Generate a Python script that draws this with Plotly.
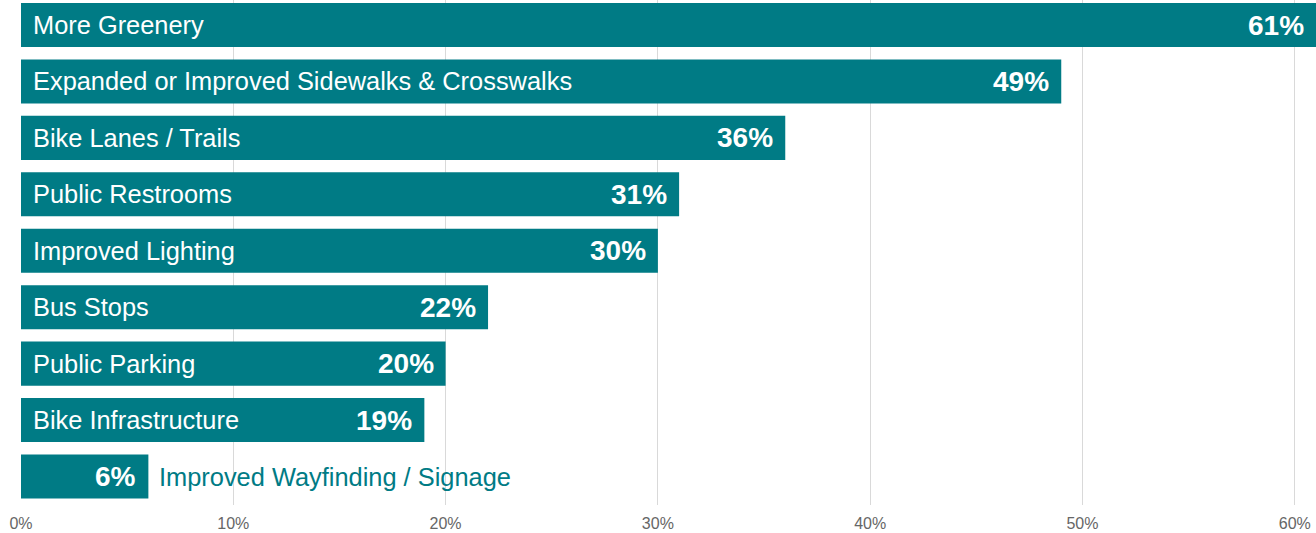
import plotly.graph_objects as go

categories = [
    "More Greenery",
    "Expanded or Improved Sidewalks & Crosswalks",
    "Bike Lanes / Trails",
    "Public Restrooms",
    "Improved Lighting",
    "Bus Stops",
    "Public Parking",
    "Bike Infrastructure",
    "Improved Wayfinding / Signage",
]
values = [61, 49, 36, 31, 30, 22, 20, 19, 6]
tick_vals = [0, 10, 20, 30, 40, 50, 60]
tick_text = ["0%", "10%", "20%", "30%", "40%", "50%", "60%"]

TEAL = "#007B85"
FONT = "Liberation Sans, Arial, sans-serif"

fig = go.Figure(go.Bar(
    x=values, y=categories, orientation="h",
    marker=dict(color=TEAL, line=dict(width=0)),
    hoverinfo="skip",
))

annotations = []
for c, v in zip(categories, values):
    inside = v > 10
    annotations.append(dict(
        x=0 if inside else v, y=c, xref="x", yref="y",
        text=c, showarrow=False, xanchor="left", yanchor="middle",
        xshift=10 if inside else 9,
        font=dict(family=FONT, size=25.4, color="white" if inside else TEAL),
    ))
    annotations.append(dict(
        x=v, y=c, xref="x", yref="y",
        text="<b>%d%%</b>" % v, showarrow=False, xanchor="right", yanchor="middle",
        xshift=-10,
        font=dict(family=FONT, size=28, color="white"),
    ))

fig.update_layout(
    width=1316, height=533,
    margin=dict(l=21, r=0, t=0, b=28),
    plot_bgcolor="white", paper_bgcolor="white",
    bargap=0.22,
    showlegend=False,
    annotations=annotations,
    xaxis=dict(
        range=[0, 61], tickvals=tick_vals, ticktext=tick_text,
        showgrid=True, gridcolor="#d9d9d9", gridwidth=1, zeroline=False,
        tickfont=dict(family=FONT, size=16, color="#666666"),
        showline=False, ticks="", ticklabelstandoff=7, fixedrange=True,
    ),
    yaxis=dict(
        categoryorder="array", categoryarray=categories,
        range=[8.505, -0.443], showticklabels=False, showgrid=False,
        zeroline=False, ticks="", fixedrange=True,
    ),
)

fig.write_html(
    "out.html",
    config={"displayModeBar": False, "staticPlot": True},
    post_script="document.body.style.margin='0';document.body.style.overflow='hidden';",
)
